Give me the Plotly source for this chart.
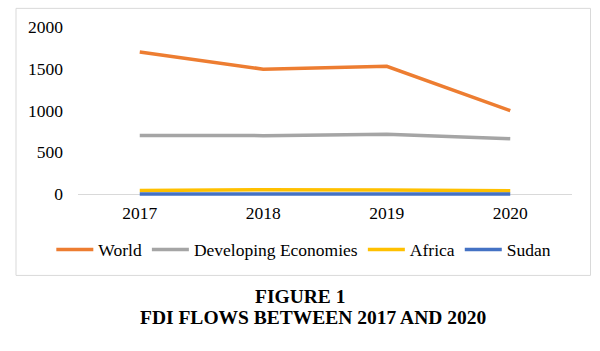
import plotly.graph_objects as go

years = ["2017", "2018", "2019", "2020"]
world = [1700, 1495, 1530, 999]
developing = [701, 699, 716, 663]
africa = [42, 51, 47, 40]
sudan = [1.1, 1.1, 0.8, 0.7]

series = [
    ("World", world, "#ED7D31"),
    ("Developing Economies", developing, "#A5A5A5"),
    ("Africa", africa, "#FFC000"),
    ("Sudan", sudan, "#4472C4"),
]

FONT = "Liberation Serif"
TXT = dict(family=FONT, size=17.5, color="black")

fig = go.Figure()
for name, vals, col in series:
    fig.add_trace(go.Scatter(x=years, y=vals, name=name, mode="lines",
                             line=dict(color=col, width=3.5)))

W, H = 600, 351
L, R, T = 78, 572, 26.7
Bplot = 196.3
fig.update_layout(
    width=W, height=H,
    margin=dict(l=L, r=W - R, t=T, b=H - Bplot, pad=0),
    paper_bgcolor="white", plot_bgcolor="white",
    font=TXT,
    showlegend=True,
    legend=dict(orientation="h", x=-0.054, xanchor="left", y=-0.317, yanchor="middle",
                itemwidth=37, font=TXT, bgcolor="rgba(0,0,0,0)",
                tracegroupgap=0),
    xaxis=dict(type="category", range=[-0.5, 3.5], showgrid=False, showline=False, ticks="",
               tickfont=TXT, ticklabelstandoff=4, fixedrange=True),
    yaxis=dict(range=[-24, 2000], tickvals=[0, 500, 1000, 1500, 2000], showgrid=False,
               zeroline=True, zerolinecolor="#D9D9D9", zerolinewidth=1, showline=False,
               ticks="", ticklabelstandoff=14, tickfont=TXT),
)

ph = Bplot - T
pw = R - L
def px2x(px):
    return (px - L) / pw
def py2y(py):
    return (Bplot - py) / ph

fig.add_shape(type="rect", xref="paper", yref="paper",
              x0=px2x(16), x1=px2x(590.5), y0=py2y(276), y1=py2y(8),
              line=dict(color="#D9D9D9", width=1), fillcolor="rgba(0,0,0,0)", layer="below")

TITLE = dict(size=19.5, family=FONT, color="black")
fig.add_annotation(text="<b>FIGURE 1</b>", xref="paper", yref="paper",
                   x=px2x(300), y=py2y(297), xanchor="center", yanchor="middle",
                   showarrow=False, font=TITLE)
fig.add_annotation(text="<b>FDI FLOWS BETWEEN 2017 AND 2020</b>", xref="paper", yref="paper",
                   x=px2x(313), y=py2y(318), xanchor="center", yanchor="middle",
                   showarrow=False, font=TITLE)

fig.write_html("out.html")
